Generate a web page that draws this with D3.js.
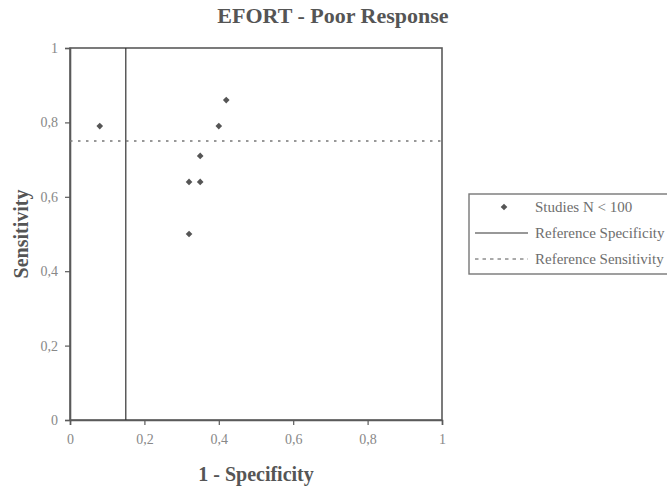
<!DOCTYPE html>
<html>
<head>
<meta charset="utf-8">
<script src="https://cdn.jsdelivr.net/npm/d3@7"></script>
<style>
  html, body { margin: 0; padding: 0; background: #fff; }
  svg { display: block; }
  text { font-family: "Liberation Serif", "Times New Roman", serif; }
</style>
</head>
<body>
<svg id="chart" width="667" height="487"></svg>
<script>
// Study points: x = 1 - specificity, y = sensitivity
const studyX = [0.08, 0.42, 0.40, 0.35, 0.32, 0.35, 0.32];
const studyY = [0.79, 0.86, 0.79, 0.71, 0.64, 0.64, 0.50];

// Reference thresholds
const refSpecificityX = 0.15;
const refSensitivityY = 0.75;

// Tick values and labels
const tickValues = [0, 0.2, 0.4, 0.6, 0.8, 1];
const tickLabels = ["0", "0,2", "0,4", "0,6", "0,8", "1"];

const legendLabels = ["Studies N < 100", "Reference Specificity", "Reference Sensitivity"];

const titleText = "EFORT - Poor Response";
const xTitle = "1 - Specificity";
const yTitle = "Sensitivity";

const svg = d3.select("#chart");
const plot = { left: 70, top: 48, width: 372, height: 372 };

const x = d3.scaleLinear().domain([0, 1]).range([plot.left, plot.left + plot.width]);
const y = d3.scaleLinear().domain([0, 1]).range([plot.top + plot.height, plot.top]);

const axisColor = "#5a5a5a";
const textColor = "#6e6e6e";

// Plot frame
svg.append("rect")
  .attr("x", plot.left).attr("y", plot.top)
  .attr("width", plot.width).attr("height", plot.height)
  .attr("fill", "none").attr("stroke", axisColor).attr("stroke-width", 1.6);

const fmt = d => tickLabels[tickValues.indexOf(d)];

// X axis
const gx = svg.append("g")
  .attr("transform", `translate(0,${plot.top + plot.height})`)
  .call(d3.axisBottom(x).tickValues(tickValues).tickFormat(fmt).tickSize(5).tickPadding(9));
// Y axis
const gy = svg.append("g")
  .attr("transform", `translate(${plot.left},0)`)
  .call(d3.axisLeft(y).tickValues(tickValues).tickFormat(fmt).tickSize(5).tickPadding(7));

[gx, gy].forEach(g => {
  g.select(".domain").attr("stroke", axisColor).attr("stroke-width", 1.6);
  g.selectAll(".tick line").attr("stroke", axisColor).attr("stroke-width", 1.2);
  g.selectAll(".tick text")
    .attr("fill", "#888")
    .style("font-family", "'Liberation Serif', serif")
    .style("font-size", "14px");
});

// Reference specificity (vertical solid line)
svg.append("line")
  .attr("x1", x(refSpecificityX)).attr("x2", x(refSpecificityX))
  .attr("y1", y(0)).attr("y2", y(1))
  .attr("stroke", "#333").attr("stroke-width", 1.2);

// Reference sensitivity (horizontal dotted line)
svg.append("line")
  .attr("x1", x(0)).attr("x2", x(1))
  .attr("y1", y(refSensitivityY)).attr("y2", y(refSensitivityY))
  .attr("stroke", "#777").attr("stroke-width", 1.6)
  .attr("stroke-dasharray", "2.5,5.5");

// Study markers (diamonds)
const diamond = d3.symbol().type(d3.symbolSquare).size(22);
svg.append("g").selectAll("path")
  .data(studyX.map((v, i) => [v, studyY[i]]))
  .join("path")
  .attr("d", diamond)
  .attr("transform", d => `translate(${x(d[0])},${y(d[1])}) rotate(45)`)
  .attr("fill", "#555");

// Title
svg.append("text")
  .attr("x", 333).attr("y", 23)
  .attr("text-anchor", "middle")
  .attr("font-weight", "bold").attr("font-size", 22)
  .attr("fill", "#555")
  .text(titleText);

// Axis titles
svg.append("text")
  .attr("x", plot.left + plot.width / 2).attr("y", 481)
  .attr("text-anchor", "middle")
  .attr("font-weight", "bold").attr("font-size", 20)
  .attr("fill", "#555")
  .text(xTitle);

svg.append("text")
  .attr("transform", `translate(28,${plot.top + plot.height / 2}) rotate(-90)`)
  .attr("text-anchor", "middle")
  .attr("font-weight", "bold").attr("font-size", 20)
  .attr("fill", "#555")
  .text(yTitle);

// Legend
const lg = svg.append("g");
lg.append("rect")
  .attr("x", 469).attr("y", 194).attr("width", 220).attr("height", 80)
  .attr("fill", "#fff").attr("stroke", "#777").attr("stroke-width", 1.4);

const rowY = [207, 233, 259];
lg.append("path")
  .attr("d", diamond)
  .attr("transform", `translate(504,${rowY[0]}) rotate(45)`)
  .attr("fill", "#555");
lg.append("line")
  .attr("x1", 475).attr("x2", 528).attr("y1", rowY[1]).attr("y2", rowY[1])
  .attr("stroke", "#333").attr("stroke-width", 1.2);
lg.append("line")
  .attr("x1", 475).attr("x2", 528).attr("y1", rowY[2]).attr("y2", rowY[2])
  .attr("stroke", "#555").attr("stroke-width", 1)
  .attr("stroke-dasharray", "3.5,4");

lg.selectAll("text.leg")
  .data(legendLabels)
  .join("text")
  .attr("class", "leg")
  .attr("x", 535).attr("y", (d, i) => rowY[i] + 5)
  .attr("font-size", 15)
  .attr("fill", textColor)
  .text(d => d);
</script>
</body>
</html>
